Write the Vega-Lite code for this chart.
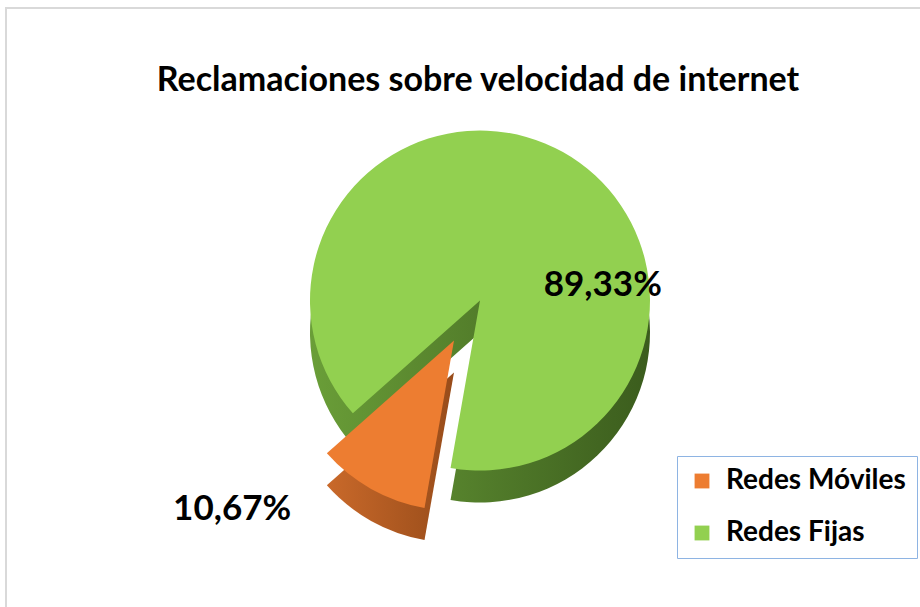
{
  "$schema": "https://vega.github.io/schema/vega-lite/v6.json",
  "autosize": {"type": "none"},
  "padding": {"left": 6, "top": 8, "right": 0, "bottom": 0},
  "width": 920,
  "height": 605,
  "background": "white",
  "view": {"stroke": "#D9D9D9", "strokeWidth": 2},
  "title": {
    "text": "Reclamaciones sobre velocidad de internet",
    "font": "Lato",
    "fontSize": 34,
    "fontWeight": "bold",
    "color": "#000000",
    "anchor": "middle",
    "offset": -90,
    "dx": 12
  },
  "data": {
    "values": [
      {"category": "Redes Móviles", "value": 10.67, "label": "10,67%", "orden": 1},
      {"category": "Redes Fijas", "value": 89.33, "label": "89,33%", "orden": 2}
    ]
  },
  "encoding": {
    "theta": {"field": "value", "type": "quantitative", "stack": true, "scale": {"range": [3.316, 9.599]}},
    "order": {"field": "orden", "type": "quantitative"}
  },
  "layer": [
    {
      "mark": {"type": "arc", "radius": 170, "xOffset": 14, "yOffset": 22,
        "fill": {"gradient": "linear", "x1": 0, "y1": 0, "x2": 1, "y2": 0,
          "stops": [{"offset": 0, "color": "#6A9E38"}, {"offset": 1, "color": "#3B5C1D"}]}},
      "encoding": {"opacity": {"condition": {"test": "datum.category === 'Redes Fijas'", "value": 1}, "value": 0}}
    },
    {
      "mark": {"type": "arc", "radius": 170, "xOffset": 14, "yOffset": -10},
      "encoding": {
        "fill": {"field": "category", "type": "nominal",
          "scale": {"domain": ["Redes Móviles", "Redes Fijas"], "range": ["#ED7D31", "#92D050"]},
          "legend": {
            "orient": "none", "legendX": 671, "legendY": 448, "title": null,
            "strokeColor": "#8EB4E3", "fillColor": "white", "padding": 11,
            "symbolType": "square", "symbolSize": 220, "symbolStrokeWidth": 0,
            "labelFont": "Lato", "labelFontSize": 28, "labelFontWeight": "bold", "labelColor": "#000000",
            "labelLimit": 400, "rowPadding": 24, "labelOffset": 10
          }},
        "opacity": {"condition": {"test": "datum.category === 'Redes Fijas'", "value": 1}, "value": 0}
      }
    },
    {
      "mark": {"type": "arc", "radius": 170, "xOffset": -12, "yOffset": 62,
        "fill": {"gradient": "linear", "x1": 0, "y1": 0, "x2": 1, "y2": 0,
          "stops": [{"offset": 0, "color": "#C9692A"}, {"offset": 1, "color": "#984C1A"}]}},
      "encoding": {"opacity": {"condition": {"test": "datum.category === 'Redes Móviles'", "value": 1}, "value": 0}}
    },
    {
      "mark": {"type": "arc", "radius": 170, "xOffset": -12, "yOffset": 30},
      "encoding": {
        "fill": {"field": "category", "type": "nominal"},
        "opacity": {"condition": {"test": "datum.category === 'Redes Móviles'", "value": 1}, "value": 0}
      }
    },
    {
      "mark": {"type": "text", "radius": 100, "xOffset": 88, "yOffset": 62, "font": "Lato", "fontSize": 35, "fontWeight": "bold", "color": "#000000"},
      "encoding": {
        "text": {"field": "label"},
        "opacity": {"condition": {"test": "datum.category === 'Redes Fijas'", "value": 1}, "value": 0}
      }
    },
    {
      "mark": {"type": "text", "radius": 180, "align": "right", "xOffset": -87, "yOffset": 41, "font": "Lato", "fontSize": 35, "fontWeight": "bold", "color": "#000000"},
      "encoding": {
        "text": {"field": "label"},
        "opacity": {"condition": {"test": "datum.category === 'Redes Móviles'", "value": 1}, "value": 0}
      }
    }
  ]
}
